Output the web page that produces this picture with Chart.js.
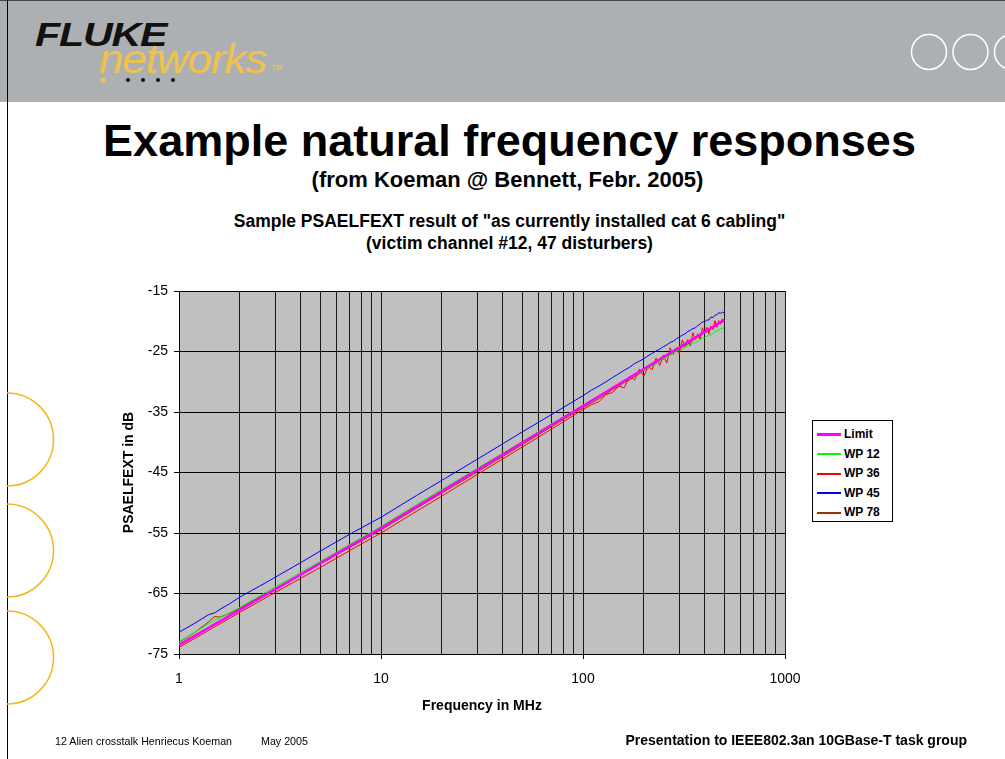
<!DOCTYPE html>
<html>
<head>
<meta charset="utf-8">
<script src="https://cdn.jsdelivr.net/npm/chart.js@4/dist/chart.umd.min.js"></script>
<style>
  body { margin: 0; width: 1005px; height: 759px; position: relative; overflow: hidden; background: #fff;
         font-family: "Liberation Sans", Arial, sans-serif; }
  .abs { position: absolute; }
  #band { left: 0; top: 0; width: 1005px; height: 101px; background: #adb0b3; border-top: 1px solid #444; }
  #frameL { left: 7px; top: 0; width: 1px; height: 759px; background: #000; }
  #fluke { left: 35px; top: 16px; font: italic bold 33px "Liberation Sans", Arial; color: #111; transform: scaleX(1.25); transform-origin: left top; letter-spacing: -1px; }
  #networks { left: 99px; top: 37px; font: italic 40px "Liberation Sans", Arial; color: #f1c24a; transform: scaleX(1.1); transform-origin: left top; letter-spacing: -1px; }
  #tm { left: 272px; top: 64px; font: bold 7px "Liberation Sans", Arial; color: #f1c24a; }
  .title { left: 0; width: 1005px; text-align: center; font-weight: bold; color: #000; }
  #t1 { left: 7px; top: 115px; font-size: 45px; }
  #t2 { left: 5px; top: 167px; font-size: 22px; }
  #t3 { left: 7px; top: 210px; font-size: 17.5px; line-height: 22px; }
  #footL { left: 55px; top: 735px; font-size: 10.7px; }
  #footM { left: 261px; top: 735px; font-size: 10.7px; }
  #footR { left: 0; width: 967px; text-align: right; top: 732px; font-size: 14px; font-weight: bold; }
  #chart { left: 0; top: 0; }
  #legend { left: 812px; top: 420px; width: 79px; height: 100px; border: 1px solid #000; background: #fff; }
  .item { position: absolute; left: 4px; height: 20px; font: bold 12px "Liberation Sans", Arial; line-height: 20px; }
  .swatch { display: inline-block; width: 24px; vertical-align: middle; margin-right: 3px; }
</style>
</head>
<body>
<div id="band" class="abs"></div>
<div id="frameL" class="abs"></div>
<div id="fluke" class="abs">FLUKE</div>
<div id="networks" class="abs">networks</div>
<div id="tm" class="abs">TM</div>
<svg class="abs" style="left:0;top:0" width="1005" height="759">
  <circle cx="103" cy="80" r="2.5" fill="#f1c24a"/>
  <circle cx="128" cy="80" r="2" fill="#111"/>
  <circle cx="143" cy="80" r="2" fill="#111"/>
  <circle cx="158" cy="80" r="2" fill="#111"/>
  <circle cx="173" cy="80" r="2" fill="#111"/>
  <circle cx="929" cy="52" r="17.5" fill="none" stroke="#fff" stroke-width="1.5"/>
  <circle cx="970.5" cy="52" r="17.5" fill="none" stroke="#fff" stroke-width="1.5"/>
  <circle cx="1012" cy="52" r="17.5" fill="none" stroke="#fff" stroke-width="1.5"/>
  <path d="M7 393 A46.5 46.5 0 0 1 7 486" fill="none" stroke="#f2b81c" stroke-width="1.5"/>
  <path d="M7 504 A46.5 46.5 0 0 1 7 597" fill="none" stroke="#f2b81c" stroke-width="1.5"/>
  <path d="M7 611 A46.5 46.5 0 0 1 7 704" fill="none" stroke="#f2b81c" stroke-width="1.5"/>
</svg>
<div id="t1" class="abs title">Example natural frequency responses</div>
<div id="t2" class="abs title">(from Koeman @ Bennett, Febr. 2005)</div>
<div id="t3" class="abs title">Sample PSAELFEXT result of "as currently installed cat 6 cabling"<br>(victim channel #12, 47 disturbers)</div>
<canvas id="chart" class="abs" width="1005" height="759"></canvas>
<div id="legend" class="abs"></div>
<div id="footL" class="abs">12 Alien crosstalk Henriecus Koeman</div>
<div id="footM" class="abs">May 2005</div>
<div id="footR" class="abs">Presentation to IEEE802.3an 10GBase-T task group</div>
<script>
// limit line: straight on the log axis
const limitFreqMHz = [1, 10, 100, 500];
const limitDb = [-73.5, -54.2, -34.0, -19.8];

const freqMHz = [1, 1.2, 1.4, 1.5, 1.6, 1.8, 2, 2.5, 3, 4, 5, 7, 10, 15, 20, 30, 50, 70, 100,
  110, 120, 130, 140, 150, 160, 170, 180, 190, 200, 210, 220, 230, 240, 250, 260, 270, 280, 290, 300,
  310, 320, 330, 340, 350, 360, 370, 380, 390, 400, 410, 420, 430, 440, 450, 460, 470, 480, 490, 500];

const wp12Db = [-73.0, -71.4, -70.0, -69.4, -69.0, -68.1, -67.3, -65.4, -63.9, -61.5, -59.7, -56.9, -53.9,
  -50.3, -47.8, -44.3, -39.9, -36.9, -33.9,
  -33.1, -32.4, -31.7, -31.0, -30.5, -29.9, -29.4, -28.9, -28.5, -28.1, -27.7, -27.3, -26.9, -26.6, -26.2,
  -25.9, -25.6, -25.3, -25.0, -24.8, -24.6, -24.3, -24.1, -23.9, -23.7, -23.4, -23.3, -23.0, -22.8, -22.7,
  -22.5, -22.3, -22.2, -22.0, -21.8, -21.6, -21.5, -21.2, -21.2, -21.0];

const wp36Db = [-73.9, -72.4, -71.1, -70.5, -70.0, -69.0, -68.1, -66.3, -64.8, -62.5, -60.7, -57.9, -55.0,
  -51.4, -48.9, -45.3, -40.8, -37.8, -34.6,
  -33.8, -33.3, -32.1, -31.8, -30.7, -31.0, -29.1, -29.7, -27.9, -29.1, -27.5, -28.0, -26.1, -27.3, -25.6,
  -26.9, -24.4, -25.5, -24.4, -25.4, -23.1, -24.2, -23.0, -24.1, -21.9, -23.0, -22.1, -23.0, -21.1, -22.0,
  -21.0, -22.1, -20.8, -21.4, -19.9, -21.0, -19.9, -20.5, -19.6, -19.9];

const wp45Db = [-71.4, -69.9, -68.5, -68.2, -67.6, -66.6, -65.6, -63.8, -62.3, -59.9, -58.0, -55.2, -52.4,
  -48.8, -46.3, -42.8, -38.3, -35.4, -32.3,
  -31.4, -30.7, -30.0, -29.3, -28.7, -28.1, -27.6, -27.0, -26.6, -26.2, -25.7, -25.3, -24.9, -24.6, -24.2,
  -23.9, -23.5, -23.3, -22.9, -22.6, -22.3, -22.1, -21.7, -21.5, -21.2, -21.1, -20.7, -20.5, -20.1, -20.1,
  -19.8, -19.8, -19.3, -19.4, -19.0, -18.9, -18.6, -18.7, -18.5, -18.6];

const wp78Db = [-73.1, -71.4, -69.7, -68.8, -68.9, -68.2, -67.4, -65.6, -64.2, -61.9, -60.1, -57.4, -54.5,
  -50.9, -48.4, -44.9, -40.4, -37.4, -34.3,
  -33.5, -32.8, -32.0, -31.3, -30.8, -30.1, -29.7, -29.1, -28.7, -28.1, -27.8, -27.3, -27.0, -26.5, -26.3,
  -25.8, -25.5, -25.1, -24.9, -24.5, -24.3, -23.9, -23.8, -23.4, -23.2, -22.8, -22.7, -22.3, -22.2, -21.8,
  -21.8, -21.4, -21.3, -20.9, -20.9, -20.5, -20.5, -20.2, -20.2, -20.0];

const seriesNames = ["Limit", "WP 12", "WP 36", "WP 45", "WP 78"];
const seriesColors = ["#ff00ff", "#00ff00", "#ff0000", "#0000ff", "#993300"];
const seriesFreqs = [limitFreqMHz, freqMHz, freqMHz, freqMHz, freqMHz];
const seriesValues = [limitDb, wp12Db, wp36Db, wp45Db, wp78Db];

const xTickValues = [1, 2, 3, 4, 5, 6, 7, 8, 9, 10, 20, 30, 40, 50, 60, 70, 80, 90,
  100, 200, 300, 400, 500, 600, 700, 800, 900, 1000];
const xTickLabels = { 1: "1", 10: "10", 100: "100", 1000: "1000" };
const yTickValues = [-75, -65, -55, -45, -35, -25, -15];

const plotBackground = {
  id: "plotBackground",
  beforeDraw(chart) {
    const { ctx, chartArea } = chart;
    ctx.save();
    ctx.fillStyle = "#c0c0c0";
    ctx.fillRect(chartArea.left, chartArea.top, chartArea.width, chartArea.height);
    ctx.restore();
  }
};

const datasets = seriesNames.map((name, i) => ({
  label: name,
  data: seriesFreqs[i].map((f, j) => ({ x: f, y: seriesValues[i][j] })),
  borderColor: seriesColors[i],
  borderWidth: i === 0 ? 2.5 : 1,
  pointRadius: 0,
  fill: false,
  tension: 0
}));

const axisFont = { family: "'Liberation Sans', Arial", size: 14 };

new Chart(document.getElementById("chart"), {
  type: "line",
  data: { datasets },
  plugins: [plotBackground],
  options: {
    responsive: false,
    animation: false,
    layout: { padding: { left: 100, top: 291, right: 220, bottom: 44 } },
    plugins: { legend: { display: false }, tooltip: { enabled: false } },
    scales: {
      x: {
        type: "logarithmic",
        min: 1,
        max: 1000,
        afterBuildTicks: (scale) => { scale.ticks = xTickValues.map(v => ({ value: v })); },
        afterFit: (scale) => { scale.height = 61; },
        ticks: {
          autoSkip: false,
          maxRotation: 0,
          color: "#000",
          font: axisFont,
          padding: 12,
          callback: (v) => xTickLabels[v] || ""
        },
        grid: {
          color: "#1a1a1a",
          tickLength: 5,
          tickColor: (ctx) => (ctx.tick && xTickLabels[ctx.tick.value] ? "#000" : "rgba(0,0,0,0)")
        },
        border: { color: "#000" },
        title: { display: true, text: "Frequency in MHz", color: "#000",
                 font: { family: "'Liberation Sans', Arial", size: 14, weight: "bold" }, padding: { top: 0, bottom: 0 } }
      },
      y: {
        min: -75,
        max: -15,
        afterBuildTicks: (scale) => { scale.ticks = yTickValues.map(v => ({ value: v })); },
        afterFit: (scale) => { scale.width = 79; },
        ticks: { color: "#000", font: axisFont, padding: 6 },
        grid: { color: "#000", tickLength: 5, tickColor: "#000" },
        border: { color: "#000" },
        title: { display: true, text: "PSAELFEXT in dB", color: "#000",
                 font: { family: "'Liberation Sans', Arial", size: 14, weight: "bold" }, padding: { top: 21, bottom: 0 } }
      }
    }
  }
});

// legend box, built from the series names and colours
const legend = document.getElementById("legend");
seriesNames.forEach((name, i) => {
  const item = document.createElement("div");
  item.className = "item";
  item.style.top = (3 + i * 19.5) + "px";
  const sw = document.createElement("span");
  sw.className = "swatch";
  sw.style.borderTop = (i === 0 ? 3 : 2) + "px solid " + seriesColors[i];
  item.appendChild(sw);
  item.appendChild(document.createTextNode(name));
  legend.appendChild(item);
});
</script>
</body>
</html>
